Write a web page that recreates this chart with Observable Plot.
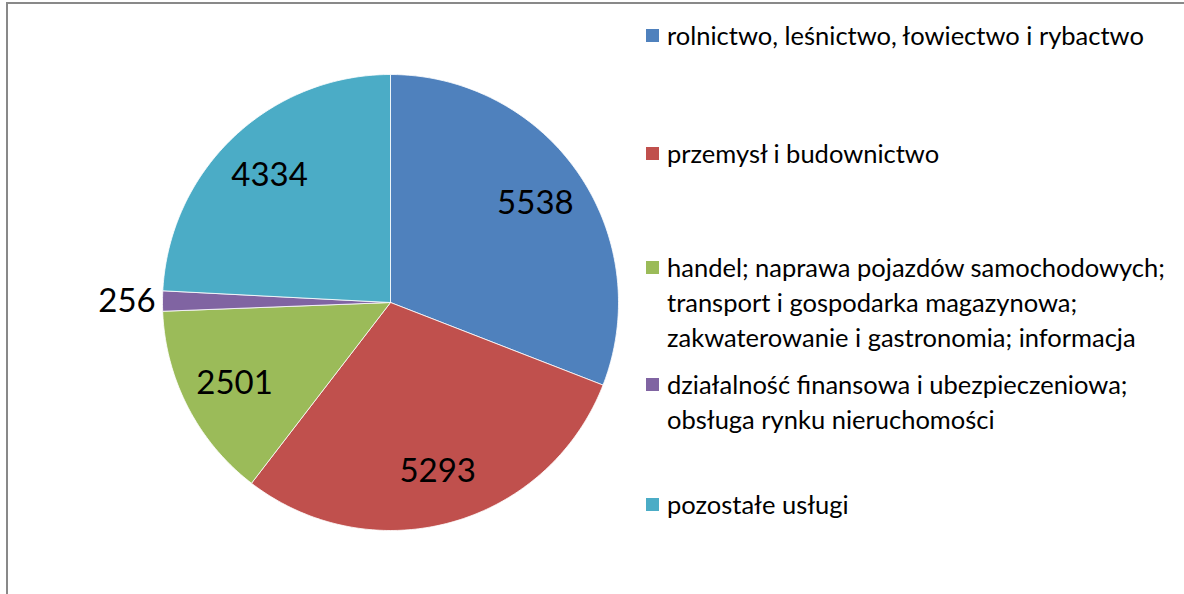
<!DOCTYPE html>
<html>
<head>
<meta charset="utf-8">
<script src="https://cdn.jsdelivr.net/npm/d3@7"></script>
<script src="https://cdn.jsdelivr.net/npm/@observablehq/plot@0.6"></script>
<style>
  html, body { margin: 0; padding: 0; background: #fff; overflow: hidden; }
  #wrap { position: relative; width: 1184px; height: 594px; overflow: hidden; font-family: Lato, "Open Sans", sans-serif; }
  #frame { position: absolute; left: 6px; top: 2px; width: 1400px; height: 800px; border: 2px solid #898989; box-sizing: border-box; }
  #chart { position: absolute; left: 0; top: 0; }
  .leg { position: absolute; left: 646px; font-size: 25.5px; line-height: 35px; color: #000; white-space: nowrap; }
  .leg .sw { position: absolute; left: 0; top: 11px; width: 13px; height: 13px; }
  .leg .tx { margin-left: 21px; }
</style>
</head>
<body>
<div id="wrap"><div id="frame"></div><div id="chart"></div></div>
<script>
const categories = [
  "rolnictwo, leśnictwo, łowiectwo i rybactwo",
  "przemysł i budownictwo",
  "handel; naprawa pojazdów samochodowych;\ntransport i gospodarka magazynowa;\nzakwaterowanie i gastronomia; informacja",
  "działalność finansowa i ubezpieczeniowa;\nobsługa rynku nieruchomości",
  "pozostałe usługi"
];
const values = [5538, 5293, 2501, 256, 4334];
const colors = ["#4F81BD", "#C0504D", "#9BBB59", "#8064A2", "#4BACC6"];

const W = 1184, H = 594, cx = 390, cy = 302, R = 228;
const total = d3.sum(values);
const cum = d3.cumsum(values);
const slices = values.map((v, i) => ({
  cat: categories[i], value: v,
  a0: (cum[i] - v) / total * 2 * Math.PI,
  a1: cum[i] / total * 2 * Math.PI
}));

// polygon points for each slice (angle clockwise from 12 o'clock, unit radius)
const pts = [];
for (const s of slices) {
  pts.push({cat: s.cat, x: 0, y: 0});
  const n = Math.max(2, Math.ceil((s.a1 - s.a0) / (2 * Math.PI) * 400));
  for (let k = 0; k <= n; k++) {
    const a = s.a0 + (s.a1 - s.a0) * k / n;
    pts.push({cat: s.cat, x: Math.sin(a), y: Math.cos(a)});
  }
  pts.push({cat: s.cat, x: 0, y: 0});
}

const labels = slices.map(s => {
  const m = (s.a0 + s.a1) / 2;
  const outside = s.value / total < 0.03;
  const r = outside ? 1.03 : 0.77;
  return {text: String(s.value), x: r * Math.sin(m), y: r * Math.cos(m), anchor: outside ? "end" : "middle"};
});

const chart = Plot.plot({
  width: W, height: H,
  margin: 0,
  x: {domain: [-cx / R, (W - cx) / R], axis: null},
  y: {domain: [-(H - cy) / R, cy / R], axis: null},
  color: {domain: categories, range: colors},
  marks: [
    Plot.line(pts, {x: "x", y: "y", z: "cat", fill: "cat", stroke: "white", strokeWidth: 0.8, curve: "linear"}),
    Plot.text(labels.filter(d => d.anchor === "middle"), {x: "x", y: "y", text: "text", fontSize: 33, fill: "#000", textAnchor: "middle", fontFamily: "Lato, sans-serif"}),
    Plot.text(labels.filter(d => d.anchor === "end"), {x: "x", y: "y", text: "text", fontSize: 33, fill: "#000", textAnchor: "end", fontFamily: "Lato, sans-serif"})
  ]
});
document.getElementById("chart").appendChild(chart);

// legend
const tops = [18, 136, 250, 367, 487];
const wrap = document.getElementById("wrap");
categories.forEach((c, i) => {
  const d = document.createElement("div");
  d.className = "leg";
  d.style.top = tops[i] + "px";
  const sw = document.createElement("span");
  sw.className = "sw";
  sw.style.background = colors[i];
  d.appendChild(sw);
  c.split("\n").forEach(line => {
    const t = document.createElement("div");
    t.className = "tx";
    t.textContent = line;
    d.appendChild(t);
  });
  wrap.appendChild(d);
});
</script>
</body>
</html>
